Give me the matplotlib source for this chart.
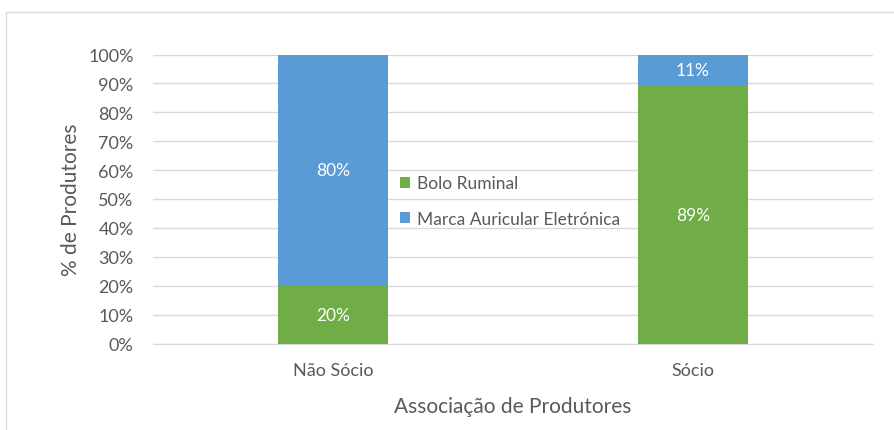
import matplotlib
matplotlib.use("Agg")
import matplotlib.pyplot as plt
from matplotlib.patches import Rectangle
from matplotlib.ticker import PercentFormatter

categories = ["Não Sócio", "Sócio"]
bolo = [20, 89]
marca = [80, 11]
series_names = ["Bolo Ruminal", "Marca Auricular Eletrónica"]
colors = ["#70AD47", "#5B9BD5"]
yticks = [0, 10, 20, 30, 40, 50, 60, 70, 80, 90, 100]

plt.rcParams['font.family'] = ['Lato', 'DejaVu Sans']
txt = "#595959"

fig = plt.figure(figsize=(8.94, 4.31), dpi=100)
W, H = 894, 431
ax = fig.add_axes([153 / W, 1 - 344.5 / H, (873 - 153) / W, (344.5 - 55.5) / H])

# outer chart border
fig.patches.append(Rectangle((6 / W, -0.1), 1.2, 1 - 13 / H + 0.1, transform=fig.transFigure,
                             fill=False, edgecolor="#D9D9D9", linewidth=1))

x = range(len(categories))
b1 = ax.bar(x, bolo, width=0.305, color=colors[0], label=series_names[0], zorder=3)
b2 = ax.bar(x, marca, width=0.305, bottom=bolo, color=colors[1], label=series_names[1], zorder=3)

for bars, vals, bottoms in [(b1, bolo, [0, 0]), (b2, marca, bolo)]:
    for rect, v, b in zip(bars, vals, bottoms):
        ax.text(rect.get_x() + rect.get_width() / 2, b + v / 2, f"{v}%",
                ha="center", va="center", color="white", fontsize=12.5)

ax.set_xlim(-0.5, 1.5)
ax.set_ylim(0, 100)
ax.set_yticks(yticks)
ax.yaxis.set_major_formatter(PercentFormatter(decimals=0))
ax.set_xticks(list(x))
ax.set_xticklabels(categories)
ax.grid(axis="y", color="#D9D9D9", linewidth=1, zorder=0)
for s in ["top", "right", "left"]:
    ax.spines[s].set_visible(False)
ax.spines["bottom"].set_color("#D9D9D9")
ax.tick_params(axis="both", length=0, colors=txt, labelsize=13)
ax.tick_params(axis="y", pad=14)
ax.tick_params(axis="x", pad=13)
ax.set_ylabel("% de Produtores", color=txt, fontsize=15, labelpad=5)
ax.set_xlabel("Associação de Produtores", color=txt, fontsize=15, labelpad=13)

leg = fig.legend(handles=[b1, b2], loc="center left", bbox_to_anchor=(384 / W, 1 - 202 / H),
                 frameon=False, fontsize=12.5, labelcolor=txt, handlelength=0.6, handleheight=0.6,
                 handletextpad=0.4, labelspacing=1.1)
for t in leg.get_texts():
    t.set_color(txt)

fig.savefig("out.png", dpi=100)
